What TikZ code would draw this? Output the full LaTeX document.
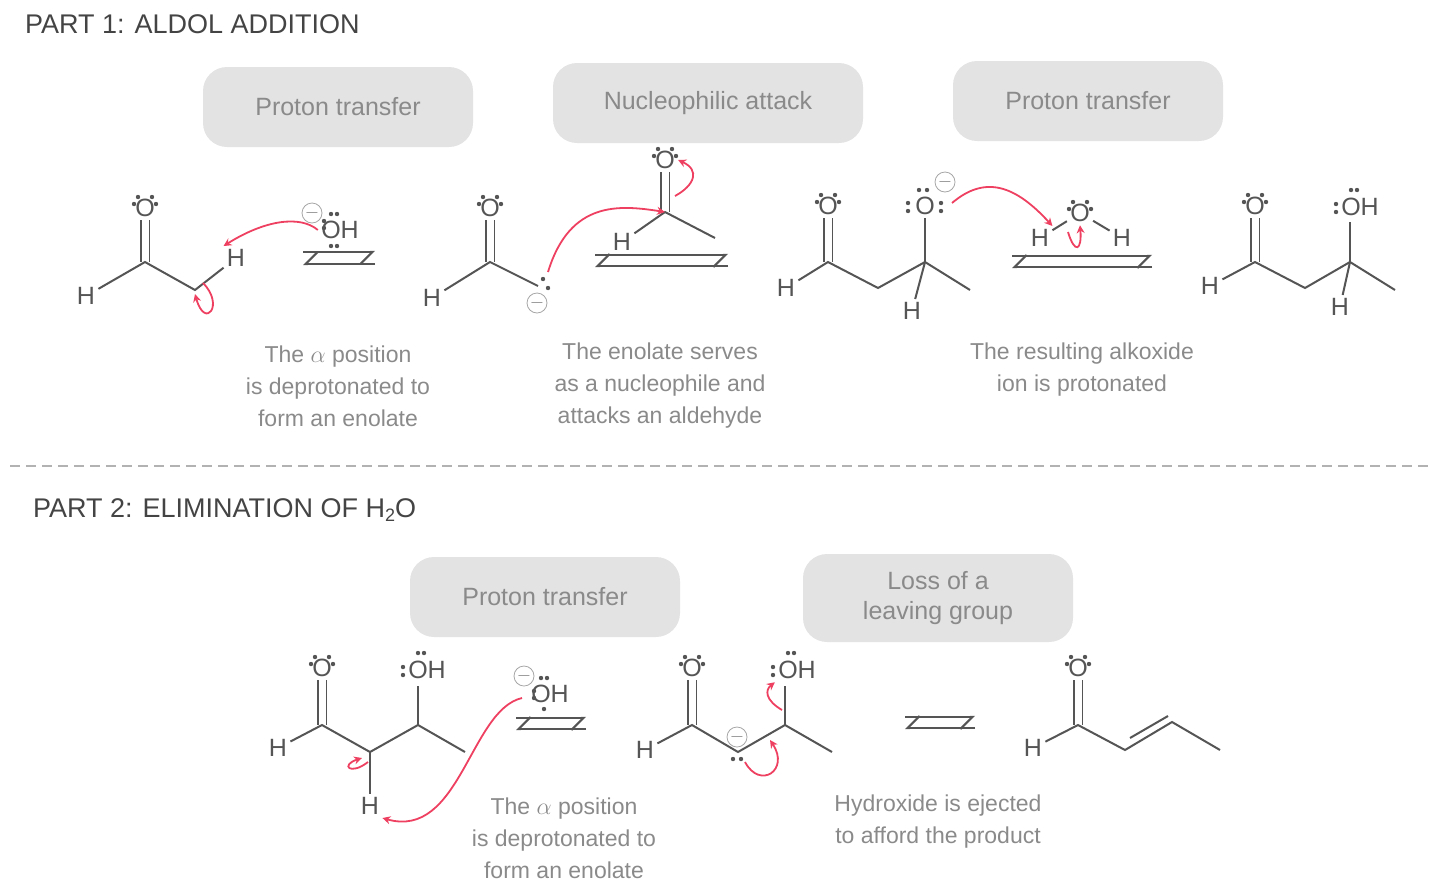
\documentclass[tikz,border=0pt]{standalone}
\usepackage{fontspec}
\setmainfont{Liberation Sans}
\usetikzlibrary{arrows.meta}
\definecolor{bondc}{HTML}{555555}
\definecolor{capc}{HTML}{8A8A8A}
\definecolor{redc}{HTML}{EE4060}
\tikzset{
 atm/.style={text=bondc,font=\fontsize{12.5}{14}\selectfont,inner sep=1.5pt},
 bd/.style={draw=bondc,line width=1pt},
 db/.style={draw=bondc,line width=0.9pt,double,double distance=3.5pt},
 captxt/.style={text=capc,font=\fontsize{11.5}{16}\selectfont,align=center},
 ban/.style={fill=gray!22,rounded corners=12pt,text=capc,font=\fontsize{12.5}{15}\selectfont,align=center,minimum height=40pt,minimum width=135pt},
 eqa/.style={draw=bondc,line width=1.1pt},
 rarr/.style={draw=redc,line width=0.9pt,-{Stealth[length=4pt,width=4pt]}},
 chg/.style={circle,draw=gray!70,text=gray,inner sep=0pt,minimum size=10pt,font=\fontsize{9}{9}\selectfont},
 tit/.style={text=bondc!80!black,font=\fontsize{13.5}{15}\selectfont,anchor=west}
}
\newcommand\lpt[1]{\fill[bondc] ([shift={(-11,-4)}]#1.center) circle (2.2);\fill[bondc] ([shift={(-7,-11)}]#1.center) circle (2.2);
\fill[bondc] ([shift={(7,-11)}]#1.center) circle (2.2);\fill[bondc] ([shift={(11,-4)}]#1.center) circle (2.2);}
\newcommand\lpdots[3]{\fill[bondc] ([shift={(#2,#3)}]#1.center) circle (2.2);}
\newcommand\eqarrow[4]{% x1 x2 ytop ybot
\coordinate (ea#1) at (#1,#3);\coordinate (eb#1) at (#2,#3);
\coordinate (ec#1) at (#2,#4);\coordinate (ed#1) at (#1,#4);
\draw[eqa,-{Straight Barb[right,length=6pt]}] (ea#1) -- (eb#1);
\draw[eqa,-{Straight Barb[right,length=6pt]}] (ec#1) -- (ed#1);}
\begin{document}
\begin{tikzpicture}[x=0.5pt,y=-0.5pt]
\useasboundingbox (0,0) rectangle (1440,895);
\node[tit] (t1) at (18,24) {PART 1: ALDOL ADDITION};
\node[tit] (t2) at (26,510) {PART 2: ELIMINATION OF H\raisebox{-0.3ex}{\fontsize{9}{9}\selectfont 2}O};
\coordinate (dl) at (10,466); \coordinate (dr) at (1432,466);
\draw[gray!60,line width=1pt,dash pattern=on 5pt off 3pt] (dl) -- (dr);
% banners
\node[ban] (b1) at (338,107) {Proton transfer};
\node[ban,minimum width=155pt] (b2) at (708,103) {Nucleophilic attack};
\node[ban] (b3) at (1088,101) {Proton transfer};
\node[ban] (b4) at (545,597) {Proton transfer};
\node[ban,minimum height=44pt] (b5) at (938,598) {Loss of a\\leaving group};
% captions
\node[captxt] (c1) at (338,386) {The $\alpha$ position\\is deprotonated to\\form an enolate};
\node[captxt] (c2) at (660,386) {The enolate serves\\as a nucleophile and\\attacks an aldehyde};
\node[captxt] (c3) at (1082,370) {The resulting alkoxide\\ion is protonated};
\node[captxt] (c4) at (564,838) {The $\alpha$ position\\is deprotonated to\\form an enolate};
\node[captxt] (c5) at (938,822) {Hydroxide is ejected\\to afford the product};
% equilibrium arrows
\eqarrow{303}{375}{252}{264}
\eqarrow{595}{728}{255}{266}
\eqarrow{1012}{1152}{256}{267}
\eqarrow{516}{586}{718}{729}
\eqarrow{905}{975}{717}{728}
% ---------- M1
\node[atm] (o1) at (145,208) {O}; \lpt{o1}
\coordinate (c11) at (145,262); \coordinate (c12) at (195,290);
\node[atm] (h11) at (86,296) {H}; \node[atm] (h12) at (236,258) {H};
\draw[db] (o1) -- (c11); \draw[bd] (h11) -- (c11) -- (c12) -- (h12);
\node[atm] (oh1) at (340,230) {OH}; \lpdots{oh1}{-16}{-2}\lpdots{oh1}{-16}{-9}\lpdots{oh1}{-9}{-16}\lpdots{oh1}{-3}{-16}\lpdots{oh1}{-9}{16}\lpdots{oh1}{-3}{16}
\node[chg] (m1) at (312,213) {$-$};
\draw[rarr] (oh1.west) .. controls (300,215) and (265,220) .. (h12.north west);
\coordinate (r1a) at (203,283); \coordinate (r1b) at (195,294);
\draw[rarr] (r1a) .. controls (225,305) and (205,330) .. (r1b);
% ---------- M2
\node[atm] (o2) at (490,208) {O}; \lpt{o2}
\coordinate (c21) at (490,262); \coordinate (c22) at (538,286);
\node[atm] (h21) at (432,298) {H};
\draw[db] (o2) -- (c21); \draw[bd] (h21) -- (c21) -- (c22);
\lpdots{o2}{53}{71}\lpdots{o2}{58}{80}
\node[chg] (m2) at (537,303) {$-$};
\node[atm] (o3) at (665,160) {O}; \lpt{o3}
\coordinate (c31) at (665,212); \coordinate (c32) at (715,238);
\node[atm] (h31) at (622,242) {H};
\draw[db] (o3) -- (c31); \draw[bd] (h31) -- (c31) -- (c32);
\coordinate (r2a) at (548,272);
\draw[rarr] (r2a) .. controls (570,200) and (620,205) .. (c31);
\coordinate (r3a) at (675,196);
\draw[rarr] (r3a) .. controls (695,185) and (700,170) .. (o3.east);
% ---------- M3
\node[atm] (o4) at (828,206) {O}; \lpt{o4}
\coordinate (c41) at (828,262); \coordinate (c42) at (878,288); \coordinate (c43) at (925,262); \coordinate (c44) at (970,290);
\node[atm] (h41) at (786,288) {H}; \node[atm] (h42) at (912,311) {H};
\node[atm] (o5) at (925,206) {O};
\lpdots{o5}{-6}{-16}\lpdots{o5}{2}{-16}\lpdots{o5}{-17}{-3}\lpdots{o5}{-17}{5}\lpdots{o5}{16}{-3}\lpdots{o5}{16}{5}
\node[chg] (m3) at (945,182) {$-$};
\draw[db] (o4) -- (c41); \draw[bd] (h41) -- (c41) -- (c42) -- (c43) -- (c44); \draw[bd] (c43) -- (o5); \draw[bd] (c43) -- (h42);
\node[atm] (ow) at (1080,213) {O}; \lpt{ow}
\node[atm] (hw1) at (1040,238) {H}; \node[atm] (hw2) at (1122,238) {H};
\draw[bd] (hw1) -- (ow) -- (hw2);
\coordinate (r4a) at (952,203);
\draw[rarr] (r4a) .. controls (985,175) and (1015,185) .. (hw1.north east);
\coordinate (r5a) at (1068,232);
\draw[rarr] (r5a) .. controls (1075,255) and (1082,250) .. (ow.south);
% ---------- M4
\node[atm] (o6) at (1255,206) {O}; \lpt{o6}
\coordinate (c61) at (1255,262); \coordinate (c62) at (1305,288); \coordinate (c63) at (1350,262); \coordinate (c64) at (1395,290);
\node[atm] (h61) at (1210,286) {H}; \node[atm] (h62) at (1340,307) {H};
\node[atm] (oh6) at (1360,207) {OH}; \lpdots{oh6}{-24}{-3}\lpdots{oh6}{-24}{5}\lpdots{oh6}{-9}{-17}\lpdots{oh6}{-3}{-17}
\coordinate (o6b) at (1350,222);
\draw[db] (o6) -- (c61); \draw[bd] (h61) -- (c61) -- (c62) -- (c63) -- (c64); \draw[bd] (c63) -- (o6b); \draw[bd] (c63) -- (h62);
% ---------- M5
\node[atm] (o7) at (322,668) {O}; \lpt{o7}
\coordinate (c71) at (322,725); \coordinate (c72) at (370,752); \coordinate (c73) at (418,725); \coordinate (c74) at (465,752);
\node[atm] (h71) at (278,748) {H}; \node[atm] (h72) at (370,806) {H};
\node[atm] (oh7) at (427,670) {OH}; \lpdots{oh7}{-24}{-3}\lpdots{oh7}{-24}{5}\lpdots{oh7}{-9}{-17}\lpdots{oh7}{-3}{-17}
\coordinate (o7b) at (418,686);
\draw[db] (o7) -- (c71); \draw[bd] (h71) -- (c71) -- (c72) -- (c73) -- (c74); \draw[bd] (c73) -- (o7b); \draw[bd] (c72) -- (h72);
\node[atm] (oh8) at (550,694) {OH}; \lpdots{oh8}{-16}{-3}\lpdots{oh8}{-16}{4}\lpdots{oh8}{-9}{-16}\lpdots{oh8}{-3}{-16}\lpdots{oh8}{-6}{15}
\node[chg] (m8) at (524,676) {$-$};
\coordinate (r6a) at (522,698);
\draw[rarr] (r6a) .. controls (470,710) and (460,840) .. (h72.south east);
\coordinate (r7a) at (368,762); \coordinate (r7b) at (362,758);
\draw[rarr] (r7a) .. controls (350,776) and (340,765) .. (r7b);
% ---------- M6
\node[atm] (o9) at (692,668) {O}; \lpt{o9}
\coordinate (c91) at (692,725); \coordinate (c92) at (738,752); \coordinate (c93) at (785,725); \coordinate (c94) at (832,752);
\node[atm] (h91) at (645,750) {H};
\node[atm] (oh9) at (797,670) {OH}; \lpdots{oh9}{-24}{-3}\lpdots{oh9}{-24}{5}\lpdots{oh9}{-9}{-17}\lpdots{oh9}{-3}{-17}
\coordinate (o9b) at (785,686);
\draw[db] (o9) -- (c91); \draw[bd] (h91) -- (c91) -- (c92) -- (c93) -- (c94); \draw[bd] (c93) -- (o9b);
\node[chg] (m9) at (737,737) {$-$};
\lpdots{m9}{-4}{22}\lpdots{m9}{4}{22}
\coordinate (r8a) at (745,762); \coordinate (r8b) at (770,740);
\draw[rarr] (r8a) .. controls (760,790) and (790,770) .. (r8b);
\coordinate (r9a) at (782,710);
\draw[rarr] (r9a) .. controls (765,700) and (765,690) .. (oh9.south west);
% ---------- M7
\node[atm] (o10) at (1078,668) {O}; \lpt{o10}
\coordinate (c101) at (1078,725); \coordinate (c102) at (1125,750); \coordinate (c103) at (1172,722); \coordinate (c104) at (1220,750);
\node[atm] (h101) at (1033,748) {H};
\draw[db] (o10) -- (c101); \draw[bd] (h101) -- (c101) -- (c102) -- (c103) -- (c104);
\coordinate (dbA) at (1130,738); \coordinate (dbB) at (1168,716);
\draw[bd] (dbA) -- (dbB);
\end{tikzpicture}
\end{document}
